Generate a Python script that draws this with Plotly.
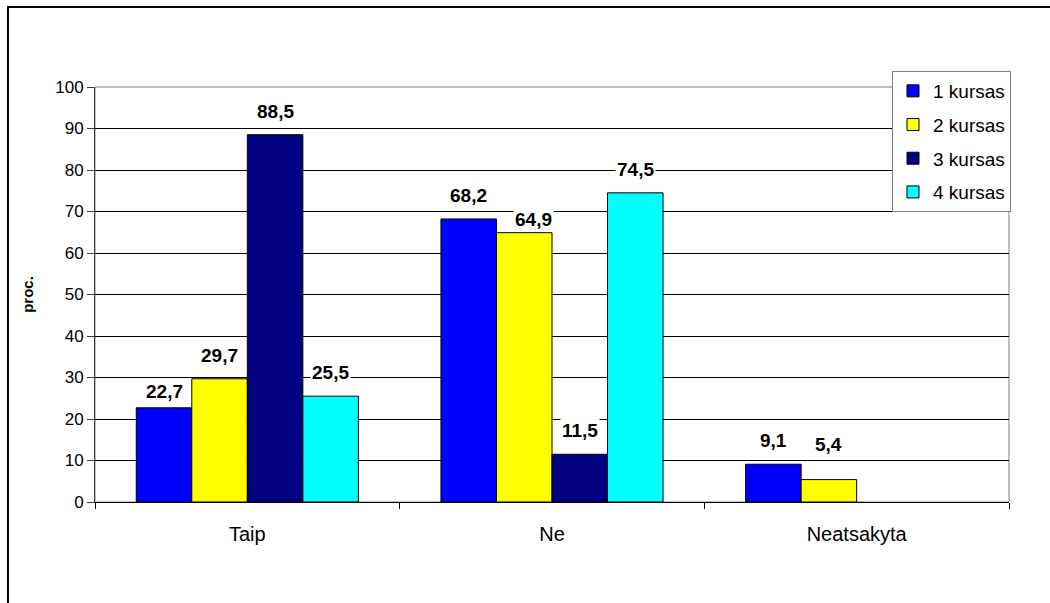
import plotly.graph_objects as go

categories = ["Taip", "Ne", "Neatsakyta"]
series_names = ["1 kursas", "2 kursas", "3 kursas", "4 kursas"]
kursas1 = [22.7, 68.2, 9.1]
kursas2 = [29.7, 64.9, 5.4]
kursas3 = [88.5, 11.5, 0]
kursas4 = [25.5, 74.5, 0]
y_ticks = list(range(0, 101, 10))

series_values = [kursas1, kursas2, kursas3, kursas4]
colors = ["#0000FF", "#FFFF00", "#000080", "#00FFFF"]

FONT = "Liberation Sans, Arial, sans-serif"
BARGAP = 0.271
LABEL_YSHIFT = 11
# manual label nudges (pixels) seen in the original: (series, category) -> (dx, dy)
label_nudge = {(0, 0): (0, -7), (1, 1): (9, -10), (1, 2): (0, 12)}

fig = go.Figure()
for i, (name, vals, col) in enumerate(zip(series_names, series_values, colors)):
    fig.add_trace(go.Bar(
        name=name, x=categories, y=vals,
        marker=dict(color=col, line=dict(color="black", width=[1 if v else 0 for v in vals])),
        legendgroup=f"g{i}",
    ))

# data labels with white background
n = len(series_values)
w = (1 - BARGAP) / n
annotations = []
for j, vals in enumerate(series_values):
    for ci, v in enumerate(vals):
        if v:
            dx, dy = label_nudge.get((j, ci), (0, 0))
            annotations.append(dict(
                x=ci + (j - (n - 1) / 2) * w, y=v, xref="x", yref="y",
                text=f"<b>{v:.1f}</b>".replace(".", ","),
                showarrow=False, yanchor="bottom", yshift=LABEL_YSHIFT + dy, xshift=dx,
                bgcolor="white", borderpad=1,
                font=dict(family=FONT, size=19, color="black"),
            ))

shapes = [
    # plot area border
    dict(type="rect", xref="paper", yref="paper", x0=0, x1=1, y0=0, y1=1,
         line=dict(color="#808080", width=1), layer="below"),
    # outer chart border (extends beyond the view on right & bottom)
    dict(type="rect", xref="paper", yref="paper", x0=-0.0952, x1=1.2, y0=-0.4, y1=1.1928,
         line=dict(color="black", width=2)),
]

fig.update_layout(
    width=1050, height=603,
    margin=dict(l=95, r=41, t=87, b=101),
    paper_bgcolor="white", plot_bgcolor="white",
    barmode="group", bargap=BARGAP, bargroupgap=0,
    font=dict(family=FONT, size=17, color="black"),
    annotations=annotations,
    shapes=shapes,
    showlegend=True,
    legend=dict(
        x=0.872, y=1.0386, xanchor="left", yanchor="top",
        bgcolor="white", bordercolor="#808080", borderwidth=1,
        font=dict(family=FONT, size=19, color="black"),
        tracegroupgap=6, traceorder="grouped",
    ),
    xaxis=dict(
        type="category", showgrid=False, showline=True, linecolor="black", linewidth=1,
        ticks="outside", ticklen=6, tickcolor="black", tickson="boundaries",
        tickfont=dict(size=20), ticklabelstandoff=14,
    ),
    yaxis=dict(
        range=[0, 100], tickvals=y_ticks, showgrid=True, gridcolor="black", gridwidth=1,
        showline=True, linecolor="#404040", linewidth=1,
        ticks="outside", ticklen=7, tickcolor="#404040",
        tickfont=dict(size=17), zeroline=False,
        title=dict(text="<b>proc.</b>", font=dict(size=15), standoff=17),
    ),
)

fig.write_html(
    "out.html",
    config={"displayModeBar": False},
    post_script="document.body.style.margin='0';document.body.style.overflow='hidden';",
)
